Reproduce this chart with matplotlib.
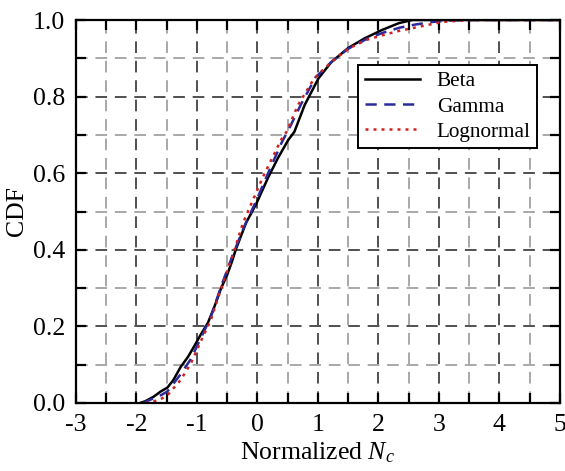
import matplotlib
matplotlib.use("Agg")
import matplotlib.pyplot as plt
from matplotlib.ticker import MultipleLocator, FormatStrFormatter

plt.rcParams['font.family'] = ['Liberation Serif', 'DejaVu Serif']
plt.rcParams['mathtext.fontset'] = 'custom'
plt.rcParams['mathtext.it'] = 'Liberation Serif:italic'
plt.rcParams['axes.unicode_minus'] = False

# values
beta_x = [-1.94, -1.85, -1.72, -1.6, -1.49, -1.39, -1.27, -1.15, -1.05, -0.94,
          -0.82, -0.72, -0.6, -0.5, -0.42, -0.36, -0.19, -0.02, 0.18, 0.34,
          0.51, 0.61, 0.78, 1.01, 1.22, 1.5, 1.77, 2.06, 2.34, 2.56, 3.0, 5.0]
beta_y = [0.0, 0.005, 0.016, 0.03, 0.04, 0.06, 0.094, 0.12, 0.147, 0.178,
          0.209, 0.248, 0.30, 0.335, 0.37, 0.40, 0.47, 0.52, 0.59, 0.64,
          0.687, 0.708, 0.778, 0.848, 0.89, 0.927, 0.952, 0.974, 0.992, 1.0, 1.0, 1.0]

gamma_x = [-1.9, -1.75, -1.6, -1.49, -1.27, -1.1, -0.94, -0.77, -0.6, -0.4,
           -0.22, 0.0, 0.12, 0.4, 0.55, 0.72, 0.96, 1.22, 1.5, 1.8, 2.06, 2.35,
           2.6, 2.9, 3.2, 3.6, 5.0]
gamma_y = [0.0, 0.01, 0.02, 0.03, 0.075, 0.115, 0.168, 0.225, 0.305, 0.39,
           0.46, 0.535, 0.58, 0.68, 0.725, 0.78, 0.85, 0.89, 0.925, 0.95,
           0.966, 0.98, 0.988, 0.995, 0.999, 1.0, 1.0]

logn_x = [-1.85, -1.7, -1.6, -1.49, -1.27, -1.1, -0.94, -0.77, -0.6, -0.4,
          -0.24, 0.09, 0.39, 0.48, 0.67, 0.94, 1.22, 1.5, 1.8, 2.06, 2.35,
          2.6, 3.05, 3.5, 5.0]
logn_y = [0.0, 0.005, 0.01, 0.02, 0.06, 0.104, 0.16, 0.217, 0.30, 0.39,
          0.47, 0.59, 0.687, 0.708, 0.778, 0.848, 0.89, 0.925, 0.948, 0.96,
          0.972, 0.98, 0.995, 1.0, 1.0]

fig = plt.figure(figsize=(5.65, 4.71), dpi=100)
ax = fig.add_axes([0.1345, 0.1444, 0.8565, 0.8131])

ax.plot(beta_x, beta_y, color='black', linewidth=1.8, label='Beta')
ax.plot(gamma_x, gamma_y, color='#2a2a9a', linewidth=1.8, linestyle=(0, (4.5, 3)), label='Gamma')
ax.plot(logn_x, logn_y, color='#d02020', linewidth=1.8, linestyle=(0, (1.2, 2)), label='Lognormal')

ax.set_xlim(-3, 5)
ax.set_ylim(0, 1)
ax.xaxis.set_major_locator(MultipleLocator(1))
ax.xaxis.set_minor_locator(MultipleLocator(0.5))
ax.yaxis.set_major_locator(MultipleLocator(0.2))
ax.yaxis.set_minor_locator(MultipleLocator(0.1))
ax.yaxis.set_major_formatter(FormatStrFormatter('%.1f'))

ax.grid(which='major', color='#505050', linestyle=(0, (6, 4)), linewidth=1.4)
ax.grid(which='minor', color='#a8a8a8', linestyle=(0, (6, 4)), linewidth=1.4)
ax.set_axisbelow(True)

ax.tick_params(which='both', direction='in', top=True, right=True, width=1.6,
               length=7, labelsize=18.5, pad=8)
for s in ax.spines.values():
    s.set_linewidth(1.6)

ax.set_xlabel(r"Normalized $N_c$", fontsize=18.5, labelpad=3)
ax.set_ylabel("CDF", fontsize=18.5, labelpad=3)

leg = ax.legend(loc='upper right', bbox_to_anchor=(0.975, 0.91), fontsize=15.3,
                frameon=True, fancybox=False, edgecolor='black', framealpha=1,
                handlelength=2.6, borderpad=0.3, labelspacing=0.25, handletextpad=0.8)
leg.get_frame().set_linewidth(1.4)

fig.savefig("out.png", dpi=100)
